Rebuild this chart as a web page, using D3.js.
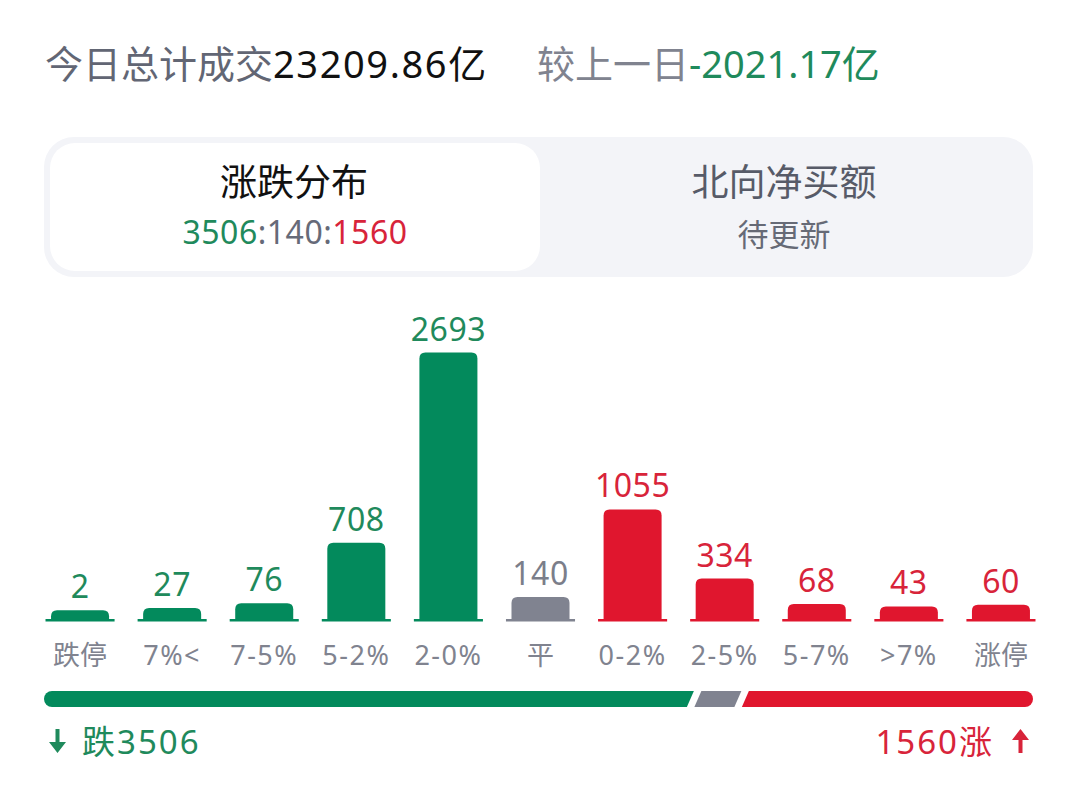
<!DOCTYPE html>
<html>
<head>
<meta charset="utf-8">
<script src="https://cdn.jsdelivr.net/npm/d3@7"></script>
<style>
  html, body { margin: 0; padding: 0; background: #fff; }
  svg { display: block; font-family: "Noto Sans", "Noto Sans CJK SC", sans-serif; }
</style>
</head>
<body>
<div id="chart"></div>
<script>
// values
const categories = ["跌停", "7%<", "7-5%", "5-2%", "2-0%", "平", "0-2%", "2-5%", "5-7%", ">7%", "涨停"];
const counts     = [2, 27, 76, 708, 2693, 140, 1055, 334, 68, 43, 60];
const sides      = ["down", "down", "down", "down", "down", "flat", "up", "up", "up", "up", "up"];

const fallTotal = 3506, flatTotal = 140, riseTotal = 1560;
const turnover  = "23209.86";
const vsPrev    = "-2021.17";

// colours
const barColor  = { down: "#038a5c", flat: "#808390", up: "#e0162e" };
const textColor = { down: "#1f8a5c", flat: "#7b7e8a", up: "#d8243a" };

const width = 1080, height = 810;

const svg = d3.select("#chart").append("svg")
  .attr("width", width)
  .attr("height", height)
  .attr("viewBox", `0 0 ${width} ${height}`);

// 1. header line
const head = svg.append("text")
  .attr("x", 45).attr("y", 78)
  .style("font-size", "38px");
head.append("tspan").attr("fill", "#626674").text("今日总计成交");
head.append("tspan").attr("fill", "#111")
  .attr("letter-spacing", "1.6px")
  .text(turnover + "亿");

const head2 = svg.append("text")
  .attr("x", 537).attr("y", 78)
  .style("font-size", "38px");
head2.append("tspan").attr("fill", "#80838f").text("较上一日");
head2.append("tspan").attr("fill", textColor.down).text(vsPrev + "亿");

// 2. tab box
svg.append("rect")
  .attr("x", 44).attr("y", 137)
  .attr("width", 989).attr("height", 140)
  .attr("rx", 30)
  .attr("fill", "#f3f4f8");

svg.append("rect")
  .attr("x", 50).attr("y", 143)
  .attr("width", 490).attr("height", 128)
  .attr("rx", 25)
  .attr("fill", "#fff");

svg.append("text")
  .attr("x", 294).attr("y", 196)
  .attr("text-anchor", "middle")
  .attr("fill", "#111")
  .style("font-size", "37px")
  .text("涨跌分布");

const ratio = svg.append("text")
  .attr("x", 295).attr("y", 244)
  .attr("text-anchor", "middle")
  .attr("letter-spacing", "0.5px")
  .style("font-size", "32px");
ratio.append("tspan").attr("fill", textColor.down).text(fallTotal);
ratio.append("tspan").attr("fill", "#666a78").text(":" + flatTotal + ":");
ratio.append("tspan").attr("fill", textColor.up).text(riseTotal);

svg.append("text")
  .attr("x", 784).attr("y", 196)
  .attr("text-anchor", "middle")
  .attr("fill", "#575b68")
  .style("font-size", "37px")
  .text("北向净买额");

svg.append("text")
  .attr("x", 784).attr("y", 246)
  .attr("text-anchor", "middle")
  .attr("fill", "#666a76")
  .style("font-size", "31px")
  .text("待更新");

// 3. bars
const baseY = 620.5;
const bars = categories.map((c, i) => ({ cat: c, value: counts[i], side: sides[i] }));

const x = d3.scaleBand()
  .domain(categories)
  .range([34, 1047]);

// short bars keep a minimum height
const y = d3.scaleLinear()
  .domain([0, d3.max(counts)])
  .range([baseY - 10, baseY - 268]);

const barW  = x.step() * 0.63,
      lineW = x.step() * 0.75,
      r     = 6;

function topRounded(x0, y0, w, h) {
  const rr = Math.min(r, h);
  return `M${x0},${y0 + h}V${y0 + rr}Q${x0},${y0} ${x0 + rr},${y0}` +
         `H${x0 + w - rr}Q${x0 + w},${y0} ${x0 + w},${y0 + rr}V${y0 + h}Z`;
}

const g = svg.append("g");

g.selectAll("path.bar")
  .data(bars)
  .join("path")
    .attr("class", "bar")
    .attr("fill", d => barColor[d.side])
    .attr("d", d => {
      const cx = x(d.cat) + x.bandwidth() / 2;
      return topRounded(cx - barW / 2, y(d.value), barW, baseY - y(d.value));
    });

g.selectAll("rect.base")
  .data(bars)
  .join("rect")
    .attr("class", "base")
    .attr("x", d => x(d.cat) + x.bandwidth() / 2 - lineW / 2)
    .attr("y", baseY - 1.5)
    .attr("width", lineW)
    .attr("height", 2.5)
    .attr("fill", d => barColor[d.side]);

g.selectAll("text.value")
  .data(bars)
  .join("text")
    .attr("class", "value")
    .attr("x", d => x(d.cat) + x.bandwidth() / 2)
    .attr("y", d => y(d.value) - 12)
    .attr("text-anchor", "middle")
    .attr("fill", d => textColor[d.side])
    .attr("letter-spacing", "0.5px")
    .style("font-size", "32px")
    .text(d => d.value);

// category labels
const xAxis = svg.append("g")
  .attr("transform", `translate(0,${baseY})`)
  .call(d3.axisBottom(x).tickSize(0).tickPadding(0));
xAxis.select(".domain").remove();
xAxis.selectAll("text")
  .attr("y", 44)
  .attr("dy", null)
  .attr("fill", "#80838f")
  .attr("letter-spacing", d => /[\u4e00-\u9fff]/.test(d) ? "0px" : "1.5px")
  .style("font-family", "'Noto Sans', 'Noto Sans CJK SC', sans-serif")
  .style("font-size", "27px");

// 4. ratio strip
const y0 = 691, y1 = 707, hh = y1 - y0, slant = 3.5, gap = 7.5, flatW = 40;
const left = 44, right = 1033;
const s = d3.scaleLinear()
  .domain([0, fallTotal + riseTotal])
  .range([0, right - left - 2 * gap - flatW]);

const gEnd   = left + s(fallTotal);
const fStart = gEnd + gap, fEnd = fStart + flatW;
const rStart = fEnd + gap;
const cap = hh / 2;

svg.append("path")
  .attr("fill", barColor.down)
  .attr("d", `M${left + cap},${y0}L${gEnd + slant},${y0}L${gEnd - slant},${y1}L${left + cap},${y1}` +
             `A${cap},${cap} 0 0 1 ${left + cap},${y0}Z`);

svg.append("path")
  .attr("fill", barColor.flat)
  .attr("d", `M${fStart + slant},${y0}L${fEnd + slant},${y0}L${fEnd - slant},${y1}L${fStart - slant},${y1}Z`);

svg.append("path")
  .attr("fill", barColor.up)
  .attr("d", `M${rStart + slant},${y0}L${right - cap},${y0}A${cap},${cap} 0 0 1 ${right - cap},${y1}` +
             `L${rStart - slant},${y1}Z`);

// 5. bottom totals with arrows
svg.append("path")
  .attr("fill", textColor.down)
  .attr("d", "M55.5,729H59.5V742H66L57.5,753L49,742H55.5Z");

svg.append("text")
  .attr("x", 82).attr("y", 754)
  .attr("fill", textColor.down)
  .attr("letter-spacing", "2px")
  .style("font-size", "33px")
  .text("跌" + fallTotal);

svg.append("path")
  .attr("fill", textColor.up)
  .attr("d", "M1018.5,753H1022.5V740H1029L1020.5,729L1012,740H1018.5Z");

svg.append("text")
  .attr("x", 994).attr("y", 754)
  .attr("text-anchor", "end")
  .attr("fill", textColor.up)
  .attr("letter-spacing", "2px")
  .style("font-size", "33px")
  .text(riseTotal + "涨");
</script>
</body>
</html>
